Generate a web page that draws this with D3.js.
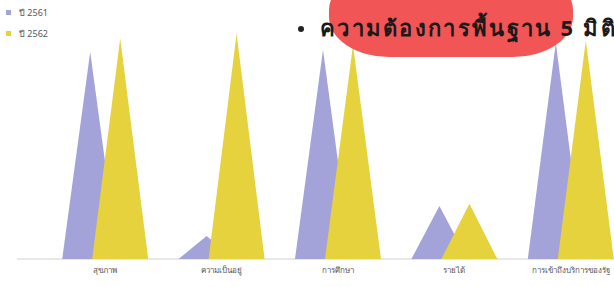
<!DOCTYPE html>
<html>
<head>
<meta charset="utf-8">
<script src="https://cdn.jsdelivr.net/npm/d3@7"></script>
<style>
  body { margin: 0; background: #fff; }
  svg { display: block; font-family: "Noto Sans", "DejaVu Sans", sans-serif; }
</style>
</head>
<body>
<script>
// categories and the two years
const categories = ['สุขภาพ', 'ความเป็นอยู่', 'การศึกษา', 'รายได้', 'การเข้าถึงบริการของรัฐ'];
const seriesNames = ['ปี 2561', 'ปี 2562'];
const values2561 = [90, 10, 91, 23, 94];
const values2562 = [96, 98, 93, 24, 95];
const titleText = 'ความต้องการพื้นฐาน 5 มิติ';

const width = 614, height = 287;
const colors = ['#a3a3d9', '#e6d23c'];

const svg = d3.select('body').append('svg')
    .attr('width', width)
    .attr('height', height);

// scales
const x = d3.scaleBand().domain(categories).range([47, 629]);
const y = d3.scaleLinear().domain([0, 100]).range([259, 29]);
const offset = d3.scaleOrdinal().domain(seriesNames).range([-15, 15]);
const halfW = 28;

const series = [
    { name: seriesNames[0], values: values2561 },
    { name: seriesNames[1], values: values2562 }
];

const line = d3.line();

// axis line
svg.append('line')
    .attr('x1', 17).attr('x2', width)
    .attr('y1', y(0)).attr('y2', y(0))
    .attr('stroke', '#d0d0d0');

// triangles
series.forEach((s, si) => {
    svg.append('g').selectAll('path')
        .data(s.values)
        .join('path')
        .attr('fill', colors[si])
        .attr('d', (v, i) => {
            const cx = x(categories[i]) + x.bandwidth() / 2 + offset(s.name);
            return line([[cx - halfW, y(0)], [cx, y(v)], [cx + halfW, y(0)]]) + 'Z';
        });
});

// category labels
const xAxis = d3.axisBottom(x).tickSize(0).tickPadding(8);
svg.append('g')
    .attr('transform', `translate(0,${y(0)})`)
    .call(xAxis)
    .call(g => g.select('.domain').remove())
    .selectAll('text')
    .attr('font-size', 8)
    .attr('fill', '#555');

// legend
const legend = svg.append('g').selectAll('g')
    .data(seriesNames)
    .join('g')
    .attr('transform', (d, i) => `translate(6,${13 + i * 21})`);
legend.append('rect')
    .attr('x', 0).attr('y', -3)
    .attr('width', 5).attr('height', 5)
    .attr('fill', (d, i) => colors[i]);
legend.append('text')
    .attr('x', 13).attr('y', 3)
    .attr('font-size', 9)
    .attr('fill', '#555')
    .text(d => d);

// red highlight blob and title
svg.append('rect')
    .attr('x', 329).attr('y', -30)
    .attr('width', 244).attr('height', 87)
    .attr('rx', 60).attr('ry', 40)
    .attr('fill', '#f25555');
svg.append('circle')
    .attr('cx', 301).attr('cy', 29).attr('r', 3)
    .attr('fill', '#222');
svg.append('text')
    .attr('x', 320).attr('y', 36)
    .attr('font-size', 22)
    .attr('font-weight', 'bold')
    .attr('letter-spacing', 2.3)
    .attr('fill', '#1a1a1a')
    .text(titleText);
</script>
</body>
</html>
